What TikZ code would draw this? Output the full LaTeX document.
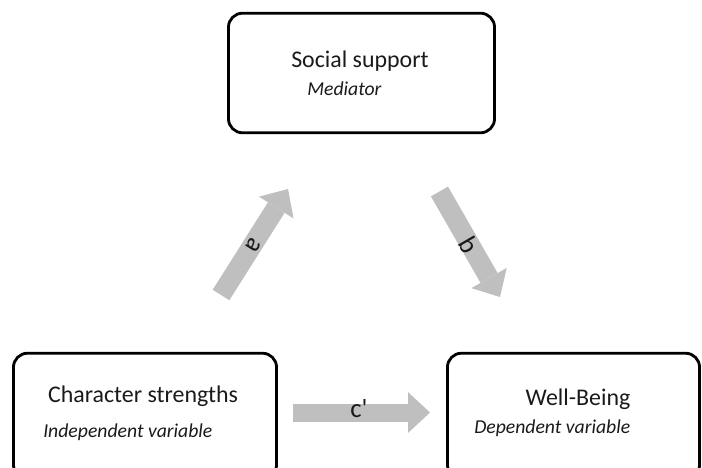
\documentclass[tikz,border=0pt]{standalone}
\usepackage{fontspec}
\setmainfont{Carlito}
\usetikzlibrary{arrows.meta}
\definecolor{arrowgray}{HTML}{BFBFBF}
\definecolor{textgray}{HTML}{1A1A1A}

\begin{document}
\begin{tikzpicture}[x=0.025cm,y=-0.025cm,
		varbox/.style={draw,line width=2pt,rounded corners=10pt,inner sep=0pt},
		blockarrow/.style={draw=arrowgray,line width=14pt,-{Triangle[length=15.6pt,width=29pt,line width=0pt]}},
		title/.style={text=textgray,font=\fontsize{17}{20}\selectfont},
		role/.style={text=textgray,font=\fontsize{14}{17}\selectfont\itshape},
		pathlabel/.style={text=textgray,font=\fontsize{19}{22}\selectfont,inner sep=0pt}]
		\useasboundingbox (0,0) rectangle (702,467);
		\clip (0,0) rectangle (702,467);
		% the three variables
		\node[varbox,minimum width=267*0.7087pt,minimum height=120*0.7087pt] (support) at (361.5,73) {};
		\node[varbox,minimum width=264*0.7087pt,minimum height=126*0.7087pt] (strengths) at (145,416) {};
		\node[varbox,minimum width=253*0.7087pt,minimum height=126*0.7087pt] (wellbeing) at (573.5,416) {};
		\node[title,anchor=base] (support title) at (360,67) {Social support};
		\node[role,anchor=base west,inner xsep=0pt] (support role) at (307,95) {Mediator};
		\node[title,anchor=base] (strengths title) at (143,402) {Character strengths};
		\node[role,anchor=base west,inner xsep=0pt] (strengths role) at (43,437) {Independent variable};
		\node[title,anchor=base] (wellbeing title) at (578,405) {Well-Being};
		\node[role,anchor=base west,inner xsep=0pt] (wellbeing role) at (474,433) {Dependent variable};
		% paths a, b and c'
		\coordinate (a tail) at (221,295);
		\coordinate (a tip) at (288,189);
		\coordinate (b tail) at (439.5,191.5);
		\coordinate (b tip) at (500,297);
		\coordinate (c tail) at (293,412.5);
		\coordinate (c tip) at (430,412.5);
		\draw[blockarrow] (a tail) -- (a tip);
		\draw[blockarrow] (b tail) -- (b tip);
		\draw[blockarrow,line width=12.8pt] (c tail) -- (c tip);
		\node[pathlabel,rotate=-122] (a label) at (254,245) {a};
		\node[pathlabel,rotate=-60] (b label) at (469,245) {b};
		\node[pathlabel] (c label) at (359,409) {c\textquotesingle};
	\end{tikzpicture}
\end{document}
